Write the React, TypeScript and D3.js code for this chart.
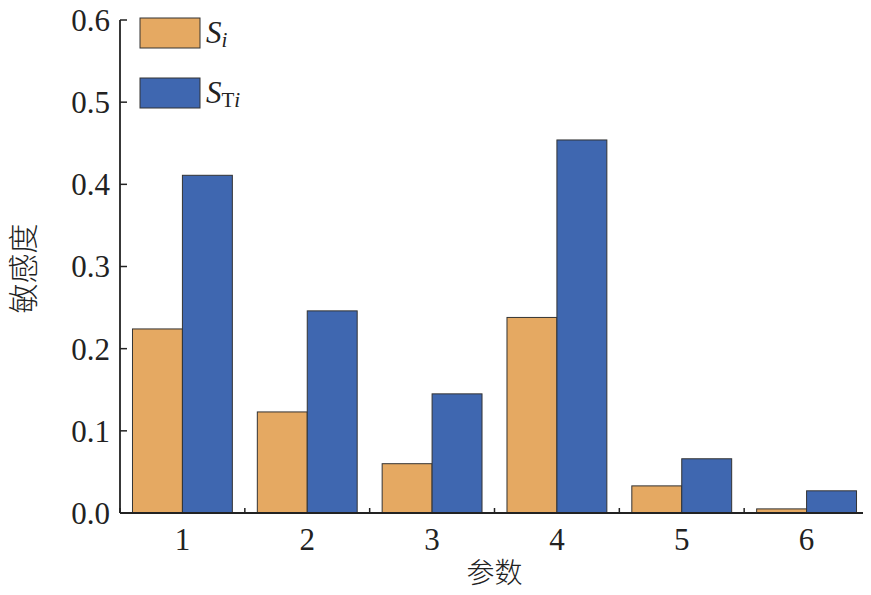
import React from 'react';
import * as d3 from 'd3';

const categories = ['1', '2', '3', '4', '5', '6'];
const siValues = [0.224, 0.123, 0.06, 0.238, 0.033, 0.005];
const stiValues = [0.411, 0.246, 0.145, 0.454, 0.066, 0.027];
const yTicks = [0, 0.1, 0.2, 0.3, 0.4, 0.5, 0.6];

const W = 871;
const H = 595;
const margin = { top: 20, right: 2, bottom: 82, left: 120 };
const serif = '"Liberation Serif", "DejaVu Serif", serif';
const cjk = '"Noto Sans CJK SC", sans-serif';
const orange = '#E5A962';
const blue = '#3F67B0';

export default function App() {
  const innerW = W - margin.left - margin.right;
  const innerH = H - margin.top - margin.bottom;

  const x = d3.scaleBand<string>().domain(categories).range([0, innerW]).paddingInner(0.2).paddingOuter(0.1);
  const y = d3.scaleLinear().domain([0, 0.6]).range([innerH, 0]);
  const step = x.step();
  const bw = x.bandwidth() / 2;
  const boundaries = d3.range(categories.length + 1).map((i) => i * step);

  return (
    <div style={{ margin: -8 }}>
      <svg width={W} height={H} style={{ display: 'block', background: '#fff' }}>
        <g transform={`translate(${margin.left},${margin.top})`}>
          {categories.map((c, i) => (
            <g key={c}>
              <rect
                x={x(c)!}
                y={y(siValues[i])}
                width={bw}
                height={innerH - y(siValues[i])}
                fill={orange}
                stroke="#333"
                strokeWidth={1}
              />
              <rect
                x={x(c)! + bw}
                y={y(stiValues[i])}
                width={bw}
                height={innerH - y(stiValues[i])}
                fill={blue}
                stroke="#333"
                strokeWidth={1}
              />
            </g>
          ))}

          {/* y axis */}
          <line x1={0} x2={0} y1={0} y2={innerH} stroke="#222" strokeWidth={1.8} />
          {yTicks.map((t) => (
            <g key={t} transform={`translate(0,${y(t)})`}>
              <line x1={0} x2={7} stroke="#222" strokeWidth={1.5} />
              <text x={-10} dy="0.35em" textAnchor="end" fontFamily={serif} fontSize={31} fill="#222">
                {t.toFixed(1)}
              </text>
            </g>
          ))}

          {/* x axis */}
          <line x1={0} x2={innerW} y1={innerH} y2={innerH} stroke="#222" strokeWidth={1.8} />
          {boundaries.map((b, i) => (
            <line key={i} x1={b} x2={b} y1={innerH} y2={innerH - 5} stroke="#222" strokeWidth={1.5} />
          ))}
          {categories.map((c) => (
            <text
              key={c}
              x={x(c)! + x.bandwidth() / 2}
              y={innerH + 37}
              textAnchor="middle"
              fontFamily={serif}
              fontSize={31}
              fill="#222"
            >
              {c}
            </text>
          ))}

          {/* legend */}
          <rect x={20} y={-2} width={60} height={30} fill={orange} stroke="#333" strokeWidth={1} />
          <text x={86} y={23} fontFamily={serif} fontSize={31} fill="#222">
            <tspan fontStyle="italic">S</tspan>
            <tspan fontStyle="italic" fontSize={21} dy={4}>i</tspan>
          </text>
          <rect x={20} y={58} width={60} height={30} fill={blue} stroke="#333" strokeWidth={1} />
          <text x={86} y={83} fontFamily={serif} fontSize={31} fill="#222">
            <tspan fontStyle="italic">S</tspan>
            <tspan fontSize={21} dy={4}>T</tspan>
            <tspan fontStyle="italic" fontSize={21}>i</tspan>
          </text>
        </g>

        {/* axis titles */}
        <text
          transform={`translate(34,${margin.top + innerH / 2 + 2}) rotate(-90)`}
          textAnchor="middle"
          fontFamily={cjk}
          fontSize={30}
          fontWeight={300}
          fill="#222"
        >
          敏感度
        </text>
        <text
          x={margin.left + innerW / 2}
          y={583}
          textAnchor="middle"
          fontFamily={cjk}
          fontSize={28}
          fontWeight={300}
          fill="#222"
        >
          参数
        </text>
      </svg>
    </div>
  );
}
